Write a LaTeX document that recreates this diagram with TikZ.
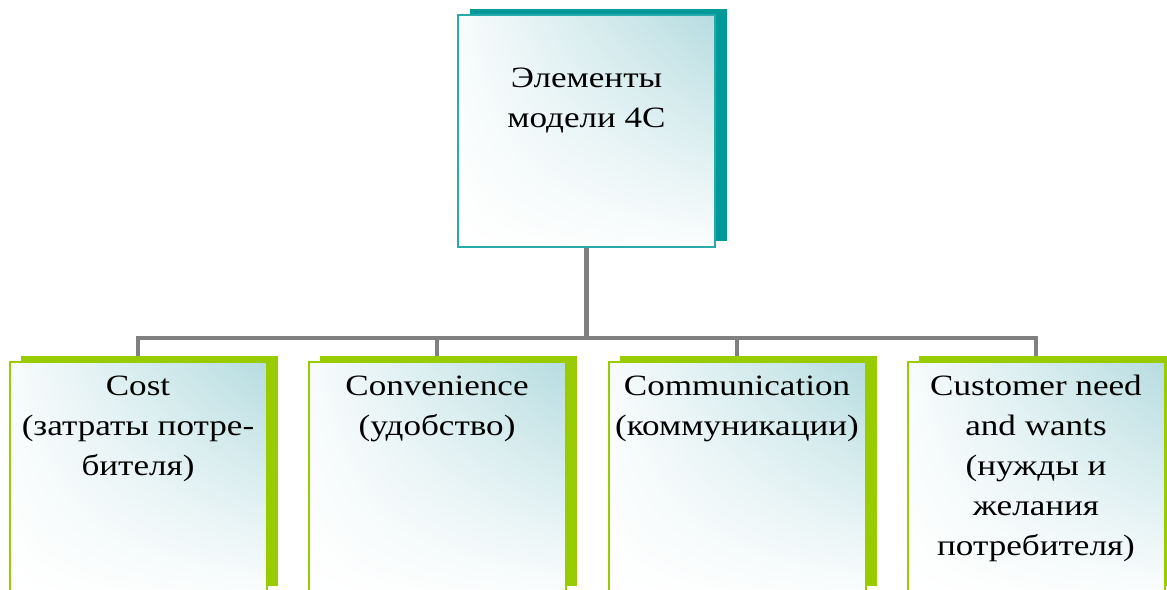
\documentclass[tikz,border=0pt]{standalone}
\usepackage{fontspec}
\setmainfont{Liberation Serif}[FakeStretch=1.19]
\usetikzlibrary{shadings,backgrounds}
\definecolor{tealsh}{RGB}{0,153,153}
\definecolor{tealln}{RGB}{40,170,170}
\definecolor{greensh}{RGB}{153,204,0}
\definecolor{gradc}{RGB}{182,220,224}
\definecolor{connc}{RGB}{128,128,128}
\tikzset{
  box/.style={shade, lower left=white, lower right=white!94!gradc, upper left=white!90!gradc, upper right=gradc,
    line width=2pt, minimum width=257pt, inner sep=0pt, outer sep=0pt},
  topbox/.style={box, draw=tealln, minimum height=232pt},
  botbox/.style={box, draw=greensh, minimum height=230pt},
  conn/.style={draw=connc, line width=4.4pt},
  txt/.style={font=\fontsize{29.5}{40}\selectfont, align=center, inner sep=0pt, anchor=base, text=black},
}
\begin{document}
\begin{tikzpicture}[x=1pt,y=-1pt]
\useasboundingbox (0,0) rectangle (1167,589);
% boxes
\node[topbox] (top) at (586.5,131) {};
\node[botbox] (b1) at (138,477) {};
\node[botbox] (b2) at (437,477) {};
\node[botbox] (b3) at (737,477) {};
\node[botbox] (b4) at (1036,477) {};
% texts (base = baseline of the last line)
\node[txt] (t0) at ([yshift=-112.5pt]top.north) {Элементы\\модели 4С};
\node[txt] (t1) at ([yshift=-113pt]b1.north) {Cost\\(затраты потре-\\бителя)};
\node[txt] (t2) at ([yshift=-73pt]b2.north) {Convenience\\(удобство)};
\node[txt] (t3) at ([yshift=-73pt]b3.north) {Communication\\(коммуникации)};
\node[txt] (t4) at ([yshift=-193pt]b4.north) {Customer need\\and wants\\(нужды и\\желания\\потребителя)};
\coordinate (hub) at ([yshift=-91pt]top.south);
\begin{scope}[on background layer]
  \fill[white] (0,0) rectangle (1167,589);
  \draw[conn] (top.south) -- (hub) -| (b1.north);
  \draw[conn] (hub) -| (b2.north);
  \draw[conn] (hub) -| (b3.north);
  \draw[conn] (hub) -| (b4.north);
  \fill[tealsh] ([xshift=11.5pt,yshift=6.5pt]top.south west) rectangle ([xshift=11.5pt,yshift=6.5pt]top.north east);
  \foreach \b in {b1,b2,b3,b4}
    \fill[greensh] ([xshift=11pt,yshift=6.5pt]\b.south west) rectangle ([xshift=11pt,yshift=6.5pt]\b.north east);
\end{scope}
\end{tikzpicture}
\end{document}
